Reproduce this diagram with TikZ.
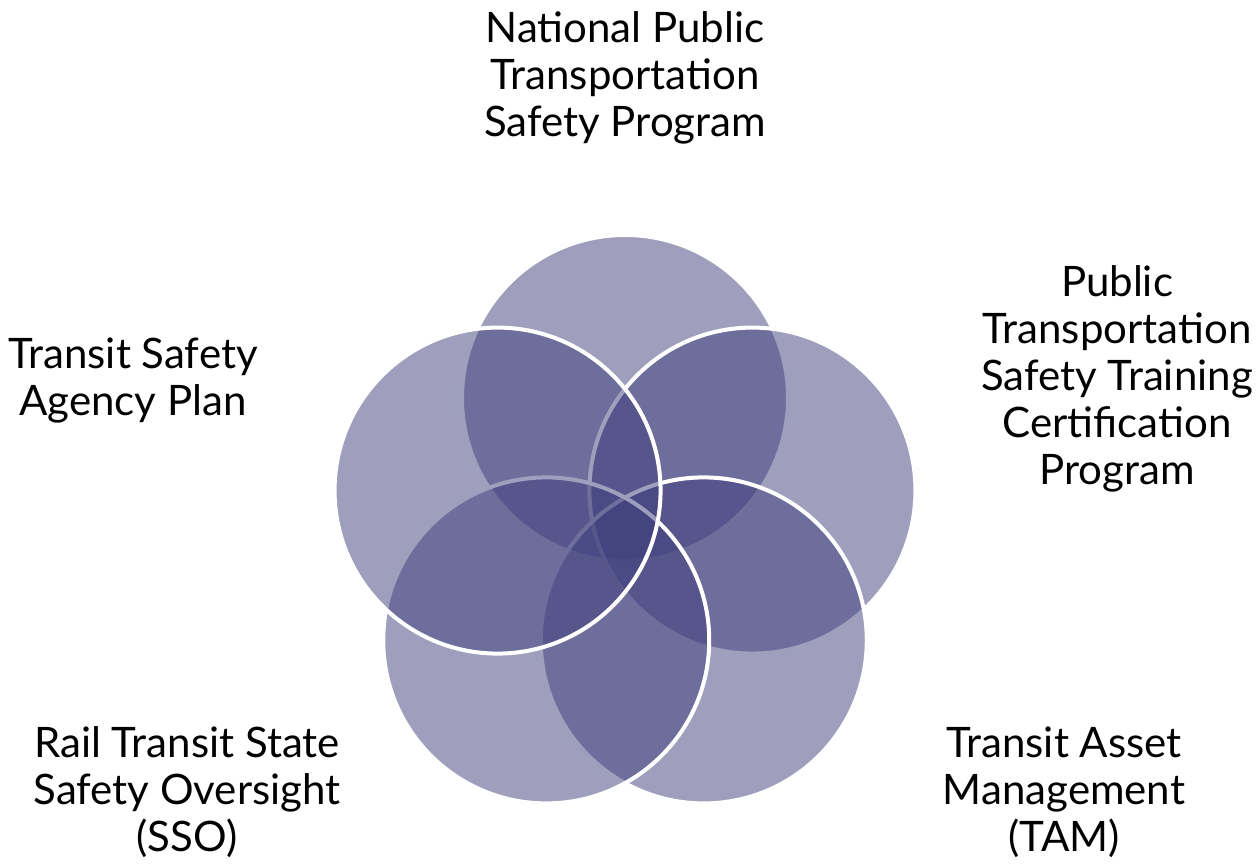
\documentclass[tikz,border=0pt]{standalone}
\usepackage{fontspec}
\setmainfont{Lato}
\usepackage{tikz}
\usetikzlibrary{positioning}
\usetikzlibrary{calc}
\definecolor{ringfill}{RGB}{63,63,124}
\tikzset{ring/.style = {fill = ringfill, fill opacity = 0.5, draw = white, line width = 4pt},
         caption/.style = {align = center, inner sep = 0pt, font = \fontsize{42}{47}\selectfont}}

\begin{document}
\begin{tikzpicture}[x = 1pt, y = 1pt]
      \useasboundingbox (0, 0) rectangle (1259, 863);
      \coordinate (mid) at (625, 331);
      % circles, drawn in order so later fills cover earlier outlines
      \foreach \ang/\name in {90/ring-ntsp, 18/ring-cert, -54/ring-tam, -126/ring-sso, 162/ring-tsap} {
        \coordinate (\name) at ($(mid) + (\ang:134)$);
        \draw [ring] (\name) circle (163);
      }
      \node [caption] (ntsp) at (625, 785) {National Public\\Transportation\\Safety Program};
      \node [caption] (cert) at (1117, 484) {Public\\Transportation\\Safety Training\\Certification\\Program};
      \node [caption] (tsap) at (133, 482) {Transit Safety\\Agency Plan};
      \node [caption] (sso) at (187, 71) {Rail Transit State\\Safety Oversight\\(SSO)};
      \node [caption] (tam) at (1064, 71) {Transit Asset\\Management\\(TAM)};
    \end{tikzpicture}
\end{document}
